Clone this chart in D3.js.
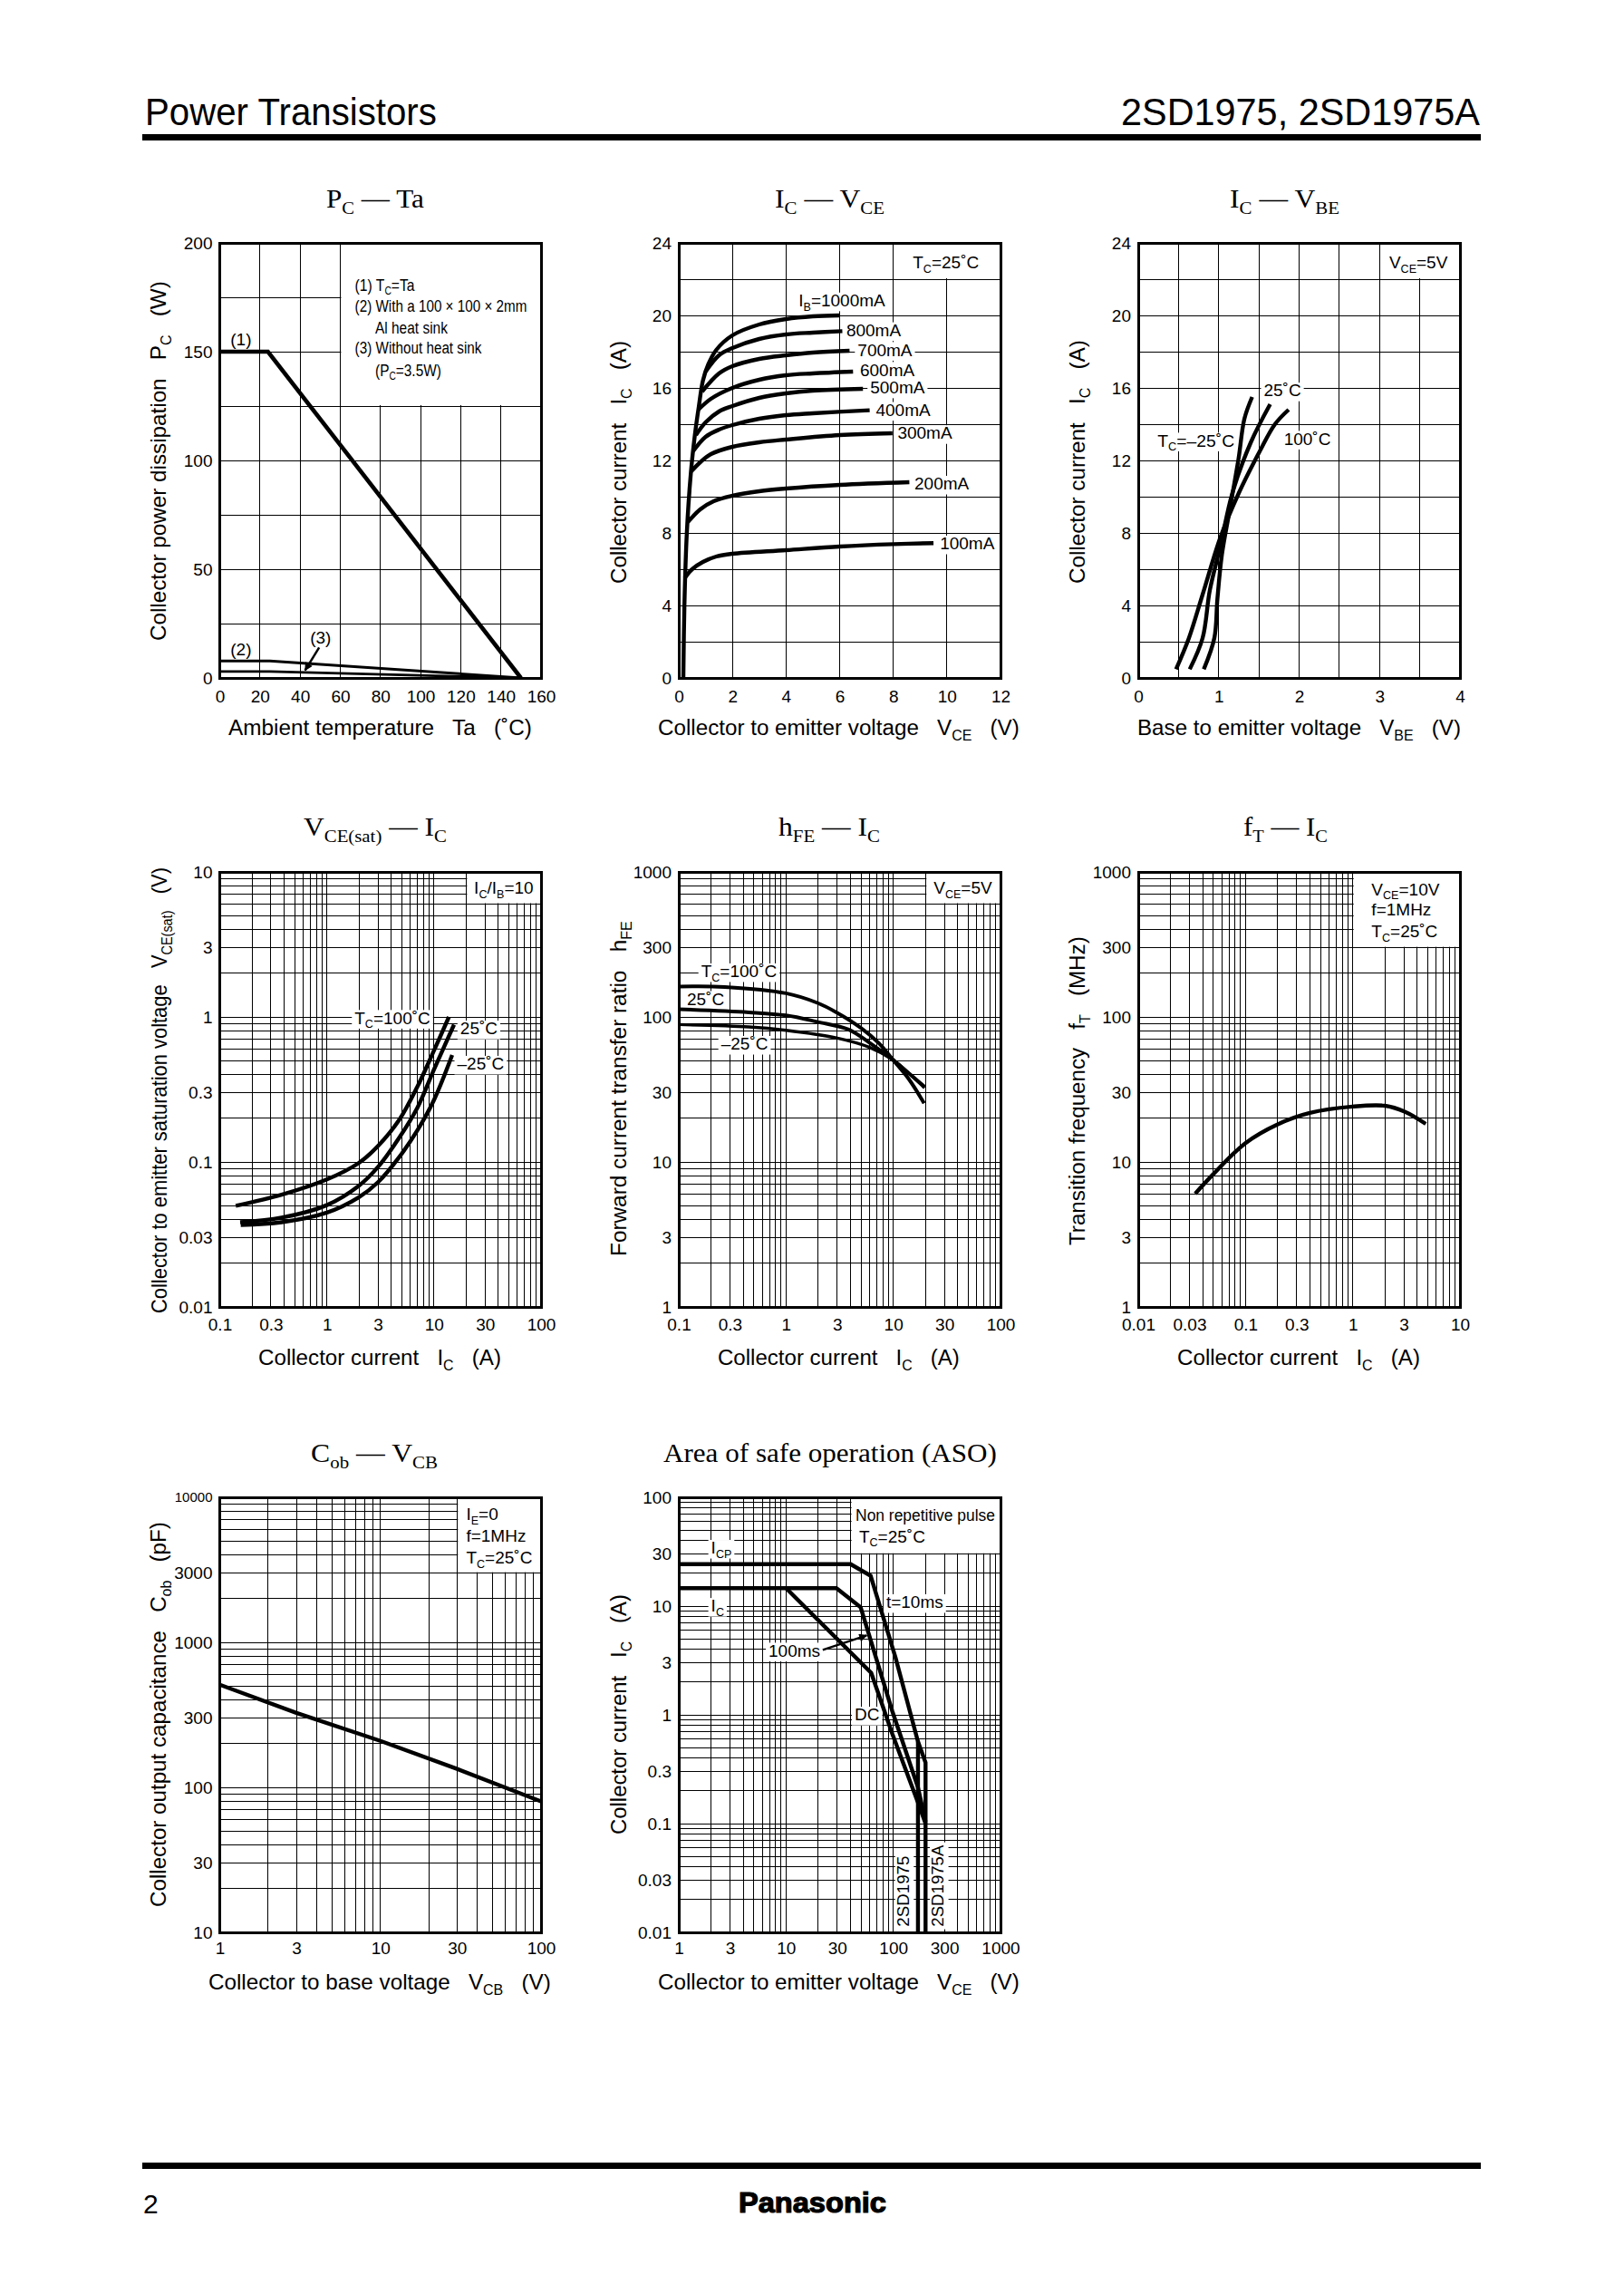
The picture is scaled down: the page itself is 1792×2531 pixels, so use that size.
<!DOCTYPE html>
<html>
<head>
<meta charset="utf-8">
<title>2SD1975 characteristics</title>
<script src="https://cdnjs.cloudflare.com/ajax/libs/d3/7.8.5/d3.min.js"></script>
<style>
  html, body { margin: 0; padding: 0; background: #fff; }
  svg { display: block; }
  text { white-space: pre; fill: #000; }
  .sans { font-family: "Liberation Sans", Arial, sans-serif; }
  .serif { font-family: "Liberation Serif", "Times New Roman", serif; }
  .tick text { font-family: "Liberation Sans", Arial, sans-serif; font-size: 19px; }
</style>
</head>
<body>
<svg id="page" width="1792" height="2531"></svg>
<script>
// PC - Ta
const taTicks = [0, 20, 40, 60, 80, 100, 120, 140, 160];
const pcTicks = [0, 50, 100, 150, 200];
const pcGrid = [0, 25, 50, 75, 100, 125, 150, 175, 200];
const pcCase = [[0, 150], [24, 150], [150, 0]];
const pcSink = [[0, 7.8], [25, 7.8], [150, 0]];
const pcFree = [[0, 3], [25, 3], [150, 0]];

// IC - VCE
const vceTicks = [0, 2, 4, 6, 8, 10, 12];
const icTicks = [0, 4, 8, 12, 16, 20, 24];
const icGrid = [0, 2, 4, 6, 8, 10, 12, 14, 16, 18, 20, 22, 24];
const ib1000 = [[0.17, 0], [0.21, 4], [0.3, 8], [0.45, 11.3], [0.6, 13.4], [0.75, 15], [0.9, 16.4], [1.1, 17.3], [1.4, 18.1], [2, 18.9], [3, 19.5], [4, 19.8], [5, 19.95], [6, 20]];
const ib800 = [[1, 16.9], [1.5, 17.8], [2, 18.2], [3, 18.7], [4, 18.95], [5, 19.05], [6.1, 19.13]];
const ib700 = [[0.87, 15.8], [1.5, 16.8], [2, 17.2], [3, 17.6], [4, 17.8], [5, 17.95], [6.37, 18.05]];
const ib600 = [[0.73, 14.8], [1.2, 15.4], [2, 16], [3, 16.45], [4, 16.7], [5, 16.8], [6.5, 16.9]];
const ib500 = [[0.64, 13.4], [1, 14.1], [1.5, 14.7], [2, 15], [3, 15.45], [4, 15.7], [5, 15.85], [6.87, 15.95]];
const ib400 = [[0.53, 12.5], [1, 13.3], [1.5, 13.7], [2, 13.95], [3, 14.3], [4, 14.5], [5, 14.6], [7.12, 14.77]];
const ib300 = [[0.47, 11.4], [0.8, 11.9], [1.2, 12.35], [2, 12.75], [3, 13], [4, 13.15], [6, 13.4], [7.97, 13.5]];
const ib200 = [[0.34, 8.6], [0.8, 9.3], [1.3, 9.75], [2, 10.05], [3, 10.3], [4, 10.45], [6, 10.65], [8.6, 10.8]];
const ib100 = [[0.22, 5.5], [0.5, 6], [0.9, 6.4], [1.4, 6.7], [2, 6.85], [4, 7.05], [6, 7.25], [8, 7.38], [9.5, 7.44]];

// IC - VBE
const vbeTicks = [0, 1, 2, 3, 4];
const vbeGrid = [0, 0.5, 1, 1.5, 2, 2.5, 3, 3.5, 4];
const vbeCold = [[0.815, 0.48], [0.946, 2.2], [0.984, 4.35], [1.04, 6.8], [1.134, 9.2], [1.247, 12.1], [1.32, 14.3], [1.416, 15.5]];
const vbeRoom = [[0.64, 0.48], [0.8, 2.2], [0.89, 4.84], [1.02, 7.26], [1.17, 10.2], [1.4, 13], [1.64, 15.1]];
const vbeHot = [[0.47, 0.48], [0.63, 2.2], [0.8, 4.6], [1.02, 7.74], [1.25, 10.2], [1.51, 12.5], [1.7, 14], [1.87, 14.8]];

// VCE(sat) - IC
const icLogTicks = [0.1, 0.3, 1, 3, 10, 30, 100];
const satTicks = [0.01, 0.03, 0.1, 0.3, 1, 3, 10];
const satHot = [[0.141, 0.0498], [0.378, 0.0594], [1, 0.0757], [1.98, 0.0982], [3.01, 0.129], [4.74, 0.195], [7, 0.33], [10, 0.586], [13.8, 1]];
const satRoom = [[0.155, 0.0384], [0.378, 0.0413], [1, 0.0504], [1.98, 0.0683], [3.01, 0.0925], [4.74, 0.147], [7, 0.2366], [10, 0.4335], [15.4, 0.885]];
const satCold = [[0.157, 0.0368], [0.378, 0.0384], [1, 0.0447], [1.98, 0.0569], [3.01, 0.0726], [4.74, 0.108], [7, 0.165], [10, 0.267], [14.8, 0.546]];

// hFE - IC
const hfeTicks = [1, 3, 10, 30, 100, 300, 1000];
const hfeHot = [[0.1, 162], [0.268, 161], [1, 145.6], [1.96, 125], [2.95, 107.6], [4.96, 84.3], [7.33, 66], [10, 50.4], [14, 37.2], [19.4, 25.4]];
const hfeRoom = [[0.1, 113], [0.45, 107.6], [1, 102.5], [1.96, 92.5], [3.83, 81.9], [6.03, 66.2], [10, 50.4], [14, 40.8], [19.6, 33]];
const hfeCold = [[0.1, 88.6], [0.45, 85.4], [1, 80.9], [2.95, 71.7], [6.03, 61.6], [10, 50.4], [14, 40.8], [19.6, 32.4]];

// fT - IC
const icSmallTicks = [0.01, 0.03, 0.1, 0.3, 1, 3, 10];
const ftCurve = [[0.034, 6.05], [0.0497, 8.19], [0.1, 13.5], [0.2, 18.2], [0.398, 21.8], [1, 24.1], [2, 24.4], [3.05, 22.2], [4.8, 18.3]];

// Cob - VCB
const vcbTicks = [1, 3, 10, 30, 100];
const cobTicks = [10, 30, 100, 300, 1000, 3000, 10000];
const cobCurve = [[1, 510], [3, 326], [10, 209], [30, 134], [100, 80]];

// ASO
const asoVceTicks = [1, 3, 10, 30, 100, 300, 1000];
const asoIcTicks = [0.01, 0.03, 0.1, 0.3, 1, 3, 10, 30, 100];
const aso10ms = [[1, 24.3], [40, 24.3], [61.5, 19], [105, 3.36], [170, 0.568], [200, 0.364], [200, 0.01]];
const aso100ms = [[1, 14.6], [29.5, 14.6], [49.6, 9.77], [98, 1.08], [170, 0.215], [200, 0.104]];
const asoDc = [[10, 14.6], [62.3, 2.43], [98, 0.668], [170, 0.156], [200, 0.1]];
const asoLimit = [[170, 0.568], [170, 0.01]];

const svg = d3.select('#page');
svg.append('defs').append('marker')
    .attr('id', 'head')
    .attr('viewBox', '0 0 10 10')
    .attr('refX', 9).attr('refY', 5)
    .attr('markerWidth', 12).attr('markerHeight', 9)
    .attr('markerUnits', 'userSpaceOnUse')
    .attr('orient', 'auto')
    .append('path').attr('d', 'M0,0L10,5L0,10Z').attr('fill', '#000');

// text with I_{C} style subscripts, stretched along its direction to fill length
function rich(parent, str, o) {
    const g = parent.append('g');
    const box = o.mask ? g.append('rect').attr('fill', '#fff') : null;
    const text = g.append('text')
        .attr('class', o.cls || 'sans')
        .style('font-size', o.size + 'px');
    if (o.bold) text.style('font-weight', 'bold');
    let down = false;
    str.split(/(_\{[^}]*\})/).filter(s => s).forEach(part => {
        const sub = part.startsWith('_{');
        const t = text.append('tspan').text(sub ? part.slice(2, -1) : part);
        if (sub) t.style('font-size', (o.size * 0.66) + 'px').attr('dy', o.size * 0.24);
        else if (down) t.attr('dy', -o.size * 0.24);
        down = sub;
    });
    const len = text.node().getComputedTextLength();
    const k = o.length ? o.length / len : 1;
    if (box) {
        box.attr('x', -3).attr('y', -o.size * 0.8)
            .attr('width', len + 6).attr('height', o.size * 1.08);
    }
    g.attr('transform', 'translate(' + o.x + ',' + o.y + ')' + (o.rotate ? 'rotate(-90)' : '') + 'scale(' + k + ',1)');
    return text;
}

function drawPlot(c) {
    const width = c.box[1] - c.box[0], height = c.box[3] - c.box[2];
    const makeX = c.logX ? d3.scaleLog() : d3.scaleLinear();
    const makeY = c.logY ? d3.scaleLog() : d3.scaleLinear();
    const x = makeX.domain(c.xDomain).range([0, width]);
    const y = makeY.domain(c.yDomain).range([height, 0]);
    const g = svg.append('g').attr('transform', 'translate(' + c.box[0] + ',' + c.box[2] + ')');

    // grid
    const xGrid = c.xGrid || x.ticks();
    const yGrid = c.yGrid || y.ticks();
    g.selectAll('.vline').data(xGrid).enter().append('line')
        .attr('x1', d => x(d)).attr('x2', d => x(d))
        .attr('y1', 0).attr('y2', height)
        .attr('stroke', '#000').attr('stroke-width', 1).attr('shape-rendering', 'crispEdges');
    g.selectAll('.hline').data(yGrid).enter().append('line')
        .attr('x1', 0).attr('x2', width)
        .attr('y1', d => y(d)).attr('y2', d => y(d))
        .attr('stroke', '#000').attr('stroke-width', 1).attr('shape-rendering', 'crispEdges');

    // white panel behind the conditions
    if (c.panel) {
        g.append('rect')
            .attr('x', x(c.panel[0]) + 1).attr('y', 0)
            .attr('width', width - x(c.panel[0]) - 1)
            .attr('height', y(c.panel[1]) - 1)
            .attr('fill', '#fff');
    }

    // axes, only the numbers are kept
    const xAxis = g.append('g').attr('transform', 'translate(0,' + height + ')')
        .call(d3.axisBottom(x).tickValues(c.xTicks).tickFormat(d => d).tickSize(0).tickPadding(c.padX));
    const yAxis = g.append('g')
        .call(d3.axisLeft(y).tickValues(c.yTicks).tickFormat(d => d).tickSize(0).tickPadding(8));
    xAxis.select('.domain').remove();
    yAxis.select('.domain').remove();
    yAxis.selectAll('text').filter(d => d === 10000).style('font-size', '15px');

    (c.notes || []).forEach(n => {
        const extra = n[3] || {};
        rich(g, n[0], {
            x: x(n[1]), y: y(n[2]), size: extra.size || 19, mask: !extra.plain,
            length: extra.length, rotate: extra.rotate
        });
    });

    // curves
    const line = d3.line().x(d => x(d[0])).y(d => y(d[1]));
    (c.curves || []).forEach(s => {
        g.append('path')
            .attr('d', line.curve(s.smooth ? d3.curveCatmullRom.alpha(0.5) : d3.curveLinear)(s.values))
            .attr('fill', 'none')
            .attr('stroke', '#000')
            .attr('stroke-width', s.w || 4.4);
    });
    (c.arrows || []).forEach(a => {
        g.append('line')
            .attr('x1', x(a[0])).attr('y1', y(a[1]))
            .attr('x2', x(a[2])).attr('y2', y(a[3]))
            .attr('stroke', '#000').attr('stroke-width', 2.5)
            .attr('marker-end', 'url(#head)');
    });

    // frame
    g.append('rect')
        .attr('width', width).attr('height', height)
        .attr('fill', 'none').attr('stroke', '#000').attr('stroke-width', 3)
        .attr('shape-rendering', 'crispEdges');

    // titles and axis labels sit in page coordinates
    rich(svg, c.title[0], {cls: 'serif', size: 29, x: c.title[1], y: c.title[3], length: c.title[2] - c.title[1]});
    rich(svg, c.xLabel[0], {size: 24, x: c.xLabel[1], y: c.xLabel[3], length: c.xLabel[2] - c.xLabel[1]});
    rich(svg, c.yLabel[0], {size: 24, rotate: true, x: c.yLabel[3], y: c.yLabel[1], length: c.yLabel[1] - c.yLabel[2]});
}

const col1 = [242.5, 597], col2 = [749, 1104], col3 = [1256, 1611];
const row1 = [268, 748], row2 = [962, 1442], row3 = [1652, 2132];
const gap = '   ';

drawPlot({
    box: [...col1, ...row1], xDomain: [0, 160], yDomain: [0, 200],
    xTicks: taTicks, yTicks: pcTicks, xGrid: taTicks, yGrid: pcGrid, padX: 14,
    panel: [60, 125],
    title: ['P_{C} — Ta', 360, 468, 229],
    xLabel: ['Ambient temperature' + gap + 'Ta' + gap + '(˚C)', 252, 587, 811],
    yLabel: ['Collector power dissipation' + gap + 'P_{C}' + gap + '(W)', 707, 310, 183],
    notes: [
        ['(1)', 5.3, 152.8, {plain: true}], ['(2)', 5.3, 10.5, {plain: true}], ['(3)', 45, 16, {plain: true}],
        ['(1) T_{C}=Ta', 67.3, 178, {size: 18, length: 66}],
        ['(2) With a 100 × 100 × 2mm', 67.3, 168.5, {size: 18, length: 190}],
        ['Al heat sink', 77.4, 158.4, {size: 18, length: 80}],
        ['(3) Without heat sink', 67.3, 149, {size: 18, length: 140}],
        ['(P_{C}=3.5W)', 77.4, 138.7, {size: 18, length: 73}]
    ],
    curves: [{values: pcCase, w: 4.6}, {values: pcSink, w: 3}, {values: pcFree, w: 2.8}],
    arrows: [[49.5, 14, 42.5, 3.5]]
});

drawPlot({
    box: [...col2, ...row1], xDomain: [0, 12], yDomain: [0, 24],
    xTicks: vceTicks, yTicks: icTicks, xGrid: vceTicks, yGrid: icGrid, padX: 14,
    panel: [8, 22],
    title: ['I_{C} — V_{CE}', 855, 976, 229],
    xLabel: ['Collector to emitter voltage' + gap + 'V_{CE}' + gap + '(V)', 726, 1125, 811],
    yLabel: ['Collector current' + gap + 'I_{C}' + gap + '(A)', 644, 376, 691],
    notes: [
        ['T_{C}=25˚C', 8.73, 22.58], ['I_{B}=1000mA', 4.47, 20.5],
        ['800mA', 6.25, 18.86], ['700mA', 6.67, 17.77], ['600mA', 6.76, 16.67],
        ['500mA', 7.14, 15.7], ['400mA', 7.35, 14.46], ['300mA', 8.16, 13.18],
        ['200mA', 8.79, 10.39], ['100mA', 9.74, 7.09]
    ],
    curves: [ib1000, ib800, ib700, ib600, ib500, ib400, ib300, ib200, ib100].map(v => ({values: v, smooth: true}))
});

drawPlot({
    box: [...col3, ...row1], xDomain: [0, 4], yDomain: [0, 24],
    xTicks: vbeTicks, yTicks: icTicks, xGrid: vbeGrid, yGrid: icGrid, padX: 14,
    panel: [3, 22],
    title: ['I_{C} — V_{BE}', 1357, 1478, 229],
    xLabel: ['Base to emitter voltage' + gap + 'V_{BE}' + gap + '(V)', 1255, 1612, 811],
    yLabel: ['Collector current' + gap + 'I_{C}' + gap + '(A)', 644, 375, 1197],
    notes: [
        ['V_{CE}=5V', 3.12, 22.6], ['25˚C', 1.56, 15.53],
        ['T_{C}=–25˚C', 0.24, 12.77, {length: 85}], ['100˚C', 1.81, 12.87]
    ],
    curves: [vbeCold, vbeRoom, vbeHot].map(v => ({values: v, smooth: true}))
});

drawPlot({
    box: [...col1, ...row2], logX: true, logY: true, xDomain: [0.1, 100], yDomain: [0.01, 10],
    xTicks: icLogTicks, yTicks: satTicks, padX: 13,
    panel: [20, 6],
    title: ['V_{CE(sat)} — I_{C}', 335, 493, 922],
    xLabel: ['Collector current' + gap + 'I_{C}' + gap + '(A)', 285, 553, 1506],
    yLabel: ['Collector to emitter saturation voltage' + gap + 'V_{CE(sat)}' + gap + '(V)', 1449, 957, 184],
    notes: [
        ['I_{C}/I_{B}=10', 23.7, 7.03], ['T_{C}=100˚C', 1.815, 0.897],
        ['25˚C', 17.6, 0.757], ['–25˚C', 16.5, 0.433]
    ],
    curves: [satHot, satRoom, satCold].map(v => ({values: v, smooth: true}))
});

drawPlot({
    box: [...col2, ...row2], logX: true, logY: true, xDomain: [0.1, 100], yDomain: [1, 1000],
    xTicks: icLogTicks, yTicks: hfeTicks, padX: 13,
    panel: [20, 600],
    title: ['h_{FE} — I_{C}', 859, 971, 922],
    xLabel: ['Collector current' + gap + 'I_{C}' + gap + '(A)', 792, 1059, 1506],
    yLabel: ['Forward current transfer ratio' + gap + 'h_{FE}', 1386, 1016, 691],
    notes: [
        ['V_{CE}=5V', 23.8, 703], ['T_{C}=100˚C', 0.1616, 188],
        ['25˚C', 0.119, 121], ['–25˚C', 0.248, 59.4]
    ],
    curves: [{values: hfeHot, smooth: true, w: 4}, {values: hfeRoom, smooth: true, w: 4}, {values: hfeCold, smooth: true, w: 3.4}]
});

drawPlot({
    box: [...col3, ...row2], logX: true, logY: true, xDomain: [0.01, 10], yDomain: [1, 1000],
    xTicks: icSmallTicks, yTicks: hfeTicks, padX: 13,
    panel: [1, 300],
    title: ['f_{T} — I_{C}', 1372, 1465, 922],
    xLabel: ['Collector current' + gap + 'I_{C}' + gap + '(A)', 1299, 1567, 1506],
    yLabel: ['Transition frequency' + gap + 'f_{T}' + gap + '(MHz)', 1374, 1033, 1197],
    notes: [['V_{CE}=10V', 1.496, 691], ['f=1MHz', 1.496, 498], ['T_{C}=25˚C', 1.496, 355]],
    curves: [{values: ftCurve, smooth: true}]
});

drawPlot({
    box: [...col1, ...row3], logX: true, logY: true, xDomain: [1, 100], yDomain: [10, 10000],
    xTicks: vcbTicks, yTicks: cobTicks, padX: 11,
    panel: [30, 3000],
    title: ['C_{ob} — V_{CB}', 343, 483, 1613],
    xLabel: ['Collector to base voltage' + gap + 'V_{CB}' + gap + '(V)', 230, 608, 2195],
    yLabel: ['Collector output capacitance' + gap + 'C_{ob}' + gap + '(pF)', 2104, 1679, 183],
    notes: [['I_{E}=0', 34.2, 6950], ['f=1MHz', 34.2, 4920], ['T_{C}=25˚C', 34.2, 3500]],
    curves: [{values: cobCurve}]
});

drawPlot({
    box: [...col2, ...row3], logX: true, logY: true, xDomain: [1, 1000], yDomain: [0.01, 100],
    xTicks: asoVceTicks, yTicks: asoIcTicks, padX: 11,
    panel: [40, 30],
    title: ['Area of safe operation (ASO)', 732, 1100, 1613],
    xLabel: ['Collector to emitter voltage' + gap + 'V_{CE}' + gap + '(V)', 726, 1125, 2195],
    yLabel: ['Collector current' + gap + 'I_{C}' + gap + '(A)', 2024, 1759, 691],
    notes: [
        ['Non repetitive pulse', 44.5, 60.6, {length: 154}], ['T_{C}=25˚C', 48, 38.6],
        ['I_{CP}', 2, 30.3], ['I_{C}', 2, 8.86], ['t=10ms', 86, 9.6],
        ['DC', 43.6, 0.886], ['100ms', 6.87, 3.44],
        ['2SD1975', 140, 0.0113, {rotate: true, length: 78}],
        ['2SD1975A', 295, 0.0113, {rotate: true, length: 90}]
    ],
    curves: [{values: aso10ms}, {values: aso100ms}, {values: asoDc}, {values: asoLimit}],
    arrows: [[22, 3.95, 56.5, 5.37]]
});

// page header and footer
rich(svg, 'Power Transistors', {size: 43, x: 160, y: 138, length: 322});
rich(svg, '2SD1975, 2SD1975A', {size: 43, x: 1237, y: 138, length: 396});
svg.selectAll('.rule').data([151.5, 2389.5]).enter().append('line')
    .attr('x1', 157).attr('x2', 1634)
    .attr('y1', d => d).attr('y2', d => d)
    .attr('stroke', '#000').attr('stroke-width', 7);
rich(svg, '2', {size: 30, x: 158, y: 2442});
rich(svg, 'Panasonic', {size: 31, x: 815, y: 2441, length: 163, bold: true})
    .attr('stroke', '#000').attr('stroke-width', 1.2);
</script>
</body>
</html>
